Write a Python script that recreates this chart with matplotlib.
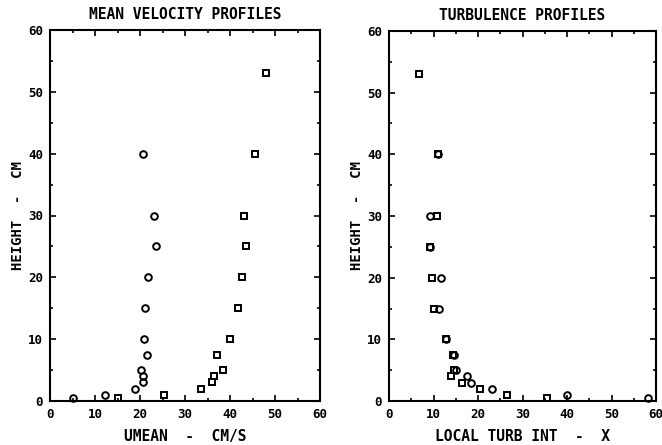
import matplotlib
matplotlib.use("Agg")
import matplotlib.pyplot as plt
from matplotlib.ticker import MultipleLocator

# Mean velocity profiles (left)
umean_circ = [5, 12.3, 18.9, 20.6, 20.7, 20.2, 21.5, 20.8, 21.2, 21.7, 23.6, 23.1, 20.6]
h_circ = [0.5, 1, 2, 3, 4, 5, 7.5, 10, 15, 20, 25, 30, 40]
umean_sq = [15.2, 25.3, 33.6, 36.0, 36.5, 38.5, 37.0, 40.0, 41.7, 42.7, 43.6, 43.2, 45.6, 47.9]
h_sq = [0.5, 1, 2, 3, 4, 5, 7.5, 10, 15, 20, 25, 30, 40, 53]

# Turbulence profiles (right)
turb_circ = [58.3, 39.9, 23.1, 18.4, 17.6, 15.0, 14.5, 12.75, 11.3, 11.6, 9.2, 9.2, 10.9]
turb_sq = [35.5, 26.6, 20.4, 16.3, 13.9, 14.6, 14.4, 12.75, 10.0, 9.75, 9.2, 10.7, 10.9, 6.75]

ticks = [0, 10, 20, 30, 40, 50, 60]
tick_labels = ["0", "10", "20", "30", "40", "50", "60"]

FONT = "DejaVu Sans Mono"

fig = plt.figure(figsize=(6.62, 4.45), dpi=100)
ax1 = fig.add_axes([50/662, 44/445, 270/662, 371/445])
ax2 = fig.add_axes([389/662, 44/445, 267/662, 370/445])

def style(ax, title, xlabel):
    ax.set_xlim(0, 60)
    ax.set_ylim(0, 60)
    ax.set_xticks(ticks)
    ax.set_yticks(ticks)
    ax.set_xticklabels(tick_labels, fontfamily=FONT, fontweight="bold", fontsize=9)
    ax.set_yticklabels(tick_labels, fontfamily=FONT, fontweight="bold", fontsize=9)
    ax.xaxis.set_minor_locator(MultipleLocator(5))
    ax.yaxis.set_minor_locator(MultipleLocator(5))
    ax.tick_params(which="both", direction="in", top=True, right=True, width=1.2, color="black")
    ax.tick_params(which="major", length=4, pad=5)
    ax.tick_params(which="minor", length=2.5)
    for s in ax.spines.values():
        s.set_linewidth(1.5)
    ax.set_title(title, fontfamily=FONT, fontweight="bold", fontsize=10.5, pad=8)
    ax.set_xlabel(xlabel, fontfamily=FONT, fontweight="bold", fontsize=10.5, labelpad=6)
    ax.set_ylabel("HEIGHT  -  CM", fontfamily=FONT, fontweight="bold", fontsize=10, labelpad=2)

mk = dict(linestyle="none", markerfacecolor="none", markeredgecolor="black",
          markeredgewidth=1.4, markersize=4.8, clip_on=False)

ax1.plot(umean_circ, h_circ, marker="o", **mk)
ax1.plot(umean_sq, h_sq, marker="s", **mk)
style(ax1, "MEAN VELOCITY PROFILES", "UMEAN  -  CM/S")

ax2.plot(turb_circ, h_circ, marker="o", **mk)
ax2.plot(turb_sq, h_sq, marker="s", **mk)
style(ax2, "TURBULENCE PROFILES", "LOCAL TURB INT  -  X")

fig.savefig("out.png", dpi=100)
